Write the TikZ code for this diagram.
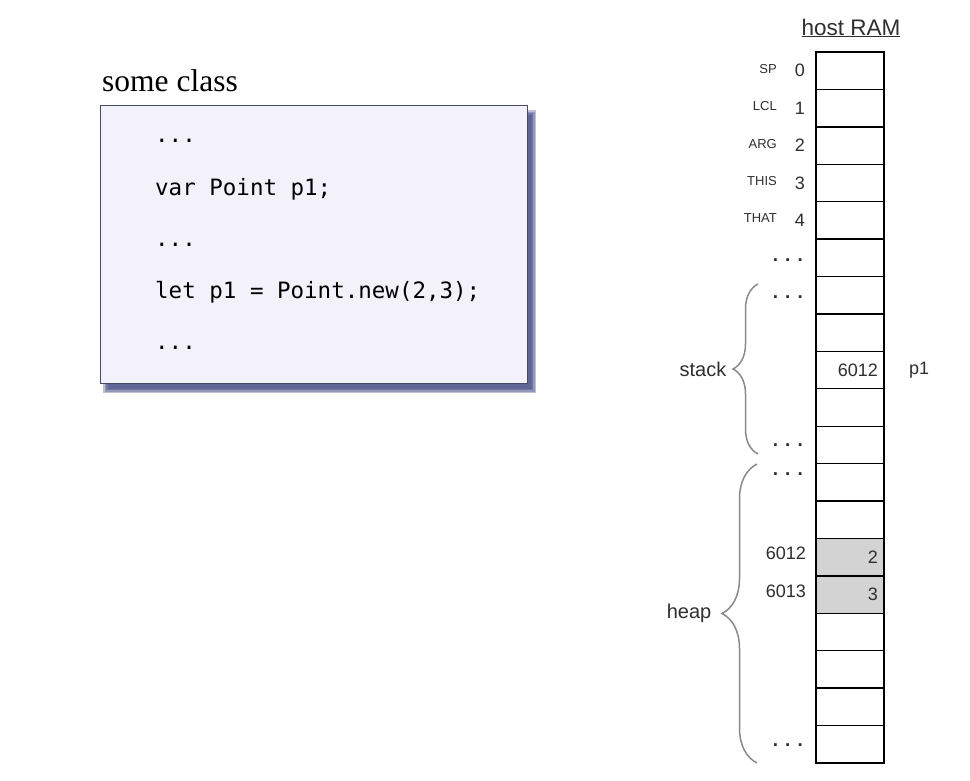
\documentclass[tikz,border=0pt]{standalone}
\usepackage{fontspec}
\setsansfont{Liberation Sans}
\setmonofont{DejaVu Sans Mono}
\newfontfamily\classfont{Liberation Serif}
\usepackage{xcolor}
\usepackage{tikz}
\usetikzlibrary{positioning}
\usetikzlibrary{backgrounds}
\usetikzlibrary{decorations.pathreplacing}
\definecolor{boxfill}{HTML}{F3F2FB}
\definecolor{boxline}{HTML}{464A66}
\definecolor{shadowblue}{HTML}{3A3F7A}
\definecolor{heapgray}{HTML}{D3D3D3}
\definecolor{bracegray}{HTML}{8A8A8A}
\definecolor{labelgray}{HTML}{2E2E2E}
\tikzset{brace edge/.style = {decorate, draw=bracegray, line width=1.5pt}}

\begin{document}
\begin{tikzpicture}[x=1pt,y=-1pt,
  ram cell/.style={draw,line width=1.4pt,minimum width=68pt,minimum height=37.42pt,inner sep=0pt,outer sep=0pt},
  addr/.style={font=\sffamily\fontsize{18}{20}\selectfont,text=labelgray,inner sep=0pt},
  reg label/.style={font=\sffamily\fontsize{13}{15}\selectfont,text=labelgray,inner sep=0pt},
  val/.style={font=\sffamily\fontsize{18}{20}\selectfont,text=labelgray,inner sep=0pt},
  dots/.style={font=\sffamily\bfseries\fontsize{19}{21}\selectfont,text=labelgray,inner sep=0pt,anchor=east},
  region/.style={font=\sffamily\fontsize{20}{22}\selectfont,text=labelgray,inner sep=0pt},
  code box/.style={draw=boxline,line width=1pt,fill=boxfill,minimum width=427pt,minimum height=278pt,inner sep=0pt},
  code line/.style={font=\ttfamily\fontsize{22.5}{24}\selectfont,anchor=base west,inner sep=0pt}]
  \useasboundingbox (0,0) rectangle (970,780);

  % the class and its code
  \node[code box] (cls) at (313.5,244) {};
  \begin{pgfonlayer}{background}
    \foreach \k in {0,...,3}
      \fill[shadowblue,opacity=0.33] ([shift={(8-\k*1.5,10-\k*1.5)}]cls.north west) rectangle ([shift={(4+\k*1.5,5+\k*1.5)}]cls.south east);
  \end{pgfonlayer}
  \node[font=\classfont\fontsize{31.5}{33}\selectfont,anchor=base west,inner sep=0pt] (title) at (102,91) {some class};
  \node[code line] (l1) at (155,142) {...};
  \node[code line] (l2) at (155,195) {var Point p1;};
  \node[code line] (l3) at (155,246) {...};
  \node[code line] (l4) at (155,298) {let p1 = Point.new(2,3);};
  \node[code line] (l5) at (155,349) {...};

  % host RAM
  \node[font=\sffamily\fontsize{22.5}{24}\selectfont,text=labelgray,anchor=base,inner sep=0pt] (ram) at (851,35) {\underline{host RAM}};
  \foreach \i in {0,...,18}
    \node[ram cell] (c\i) at (850,{52+37.42*(\i+0.5)}) {};
  \node[ram cell,fill=heapgray] (x) at (c13) {};
  \node[ram cell,fill=heapgray] (y) at (c14) {};

  \foreach \i/\r in {0/SP,1/LCL,2/ARG,3/THIS,4/THAT}{
    \node[addr,anchor=east] (a\i) at ([xshift=-11pt]c\i.west) {\i};
    \node[reg label,anchor=east] (r\i) at ([xshift=-39pt,yshift=2pt]c\i.west) {\r};
  }

  \node[dots] (d5) at (803,260) {. . .};
  \node[dots] (d6) at (803,297) {. . .};
  \node[dots] (d10) at (803,445) {. . .};
  \node[dots] (d11) at (803,474) {. . .};
  \node[dots] (d18) at (803,745) {. . .};

  \node[val,anchor=east] (v8) at ([xshift=-6pt]c8.east) {6012};
  \node[val,right=25pt of c8.east] (p1) {p1};
  \node[val,anchor=east] (vx) at ([xshift=-6pt]x.east) {2};
  \node[val,anchor=east] (vy) at ([xshift=-6pt]y.east) {3};
  \node[addr,anchor=east] (ax) at (806,553) {6012};
  \node[addr,anchor=east] (ay) at (806,591) {6013};

  % stack and heap
  \coordinate (stack top) at (758,284);
  \coordinate (stack bot) at (758,454);
  \coordinate (heap top) at (757,464);
  \coordinate (heap bot) at (757,763);
  \draw[brace edge,decoration={brace,amplitude=25pt}] (stack bot) -- (stack top)
    node[region,midway,left=31pt] (stack) {stack};
  \draw[brace edge,decoration={brace,amplitude=35pt}] (heap bot) -- (heap top)
    node[region,midway,left=45pt] (heap) {heap};
\end{tikzpicture}
\end{document}
